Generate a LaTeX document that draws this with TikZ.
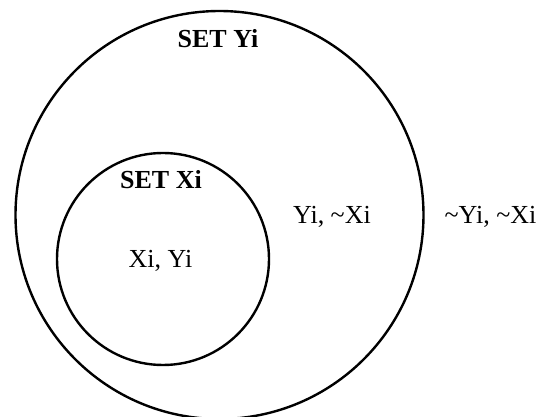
\documentclass[tikz,border=0pt]{standalone}
\usepackage{fontspec}
\setmainfont{Liberation Serif}
\begin{document}
\begin{tikzpicture}[x=1pt,y=-1pt,
  setcircle/.style={circle,draw=black,line width=2.4pt,inner sep=0pt},
  lbl/.style={anchor=base,inner sep=0pt,font=\fontsize{26}{31}\selectfont},
  title/.style={lbl,font=\fontsize{26}{31}\selectfont\bfseries}]
\useasboundingbox (0,0) rectangle (547,417);
\node[setcircle,minimum size=408pt] (Y) at (219.5,215) {};
\node[setcircle,minimum size=212pt] (X) at (163,259) {};
\node[title] (ty) at (218,48) {SET Yi};
\node[title] (tx) at (161,189) {SET Xi};
\node[lbl] (xy) at (160.5,268) {Xi, Yi};
\node[lbl] (ynx) at (332,224) {Yi, \char"7E Xi};
\node[lbl] (nynx) at (490.5,224) {\char"7E Yi, \char"7E Xi};
\end{tikzpicture}
\end{document}
